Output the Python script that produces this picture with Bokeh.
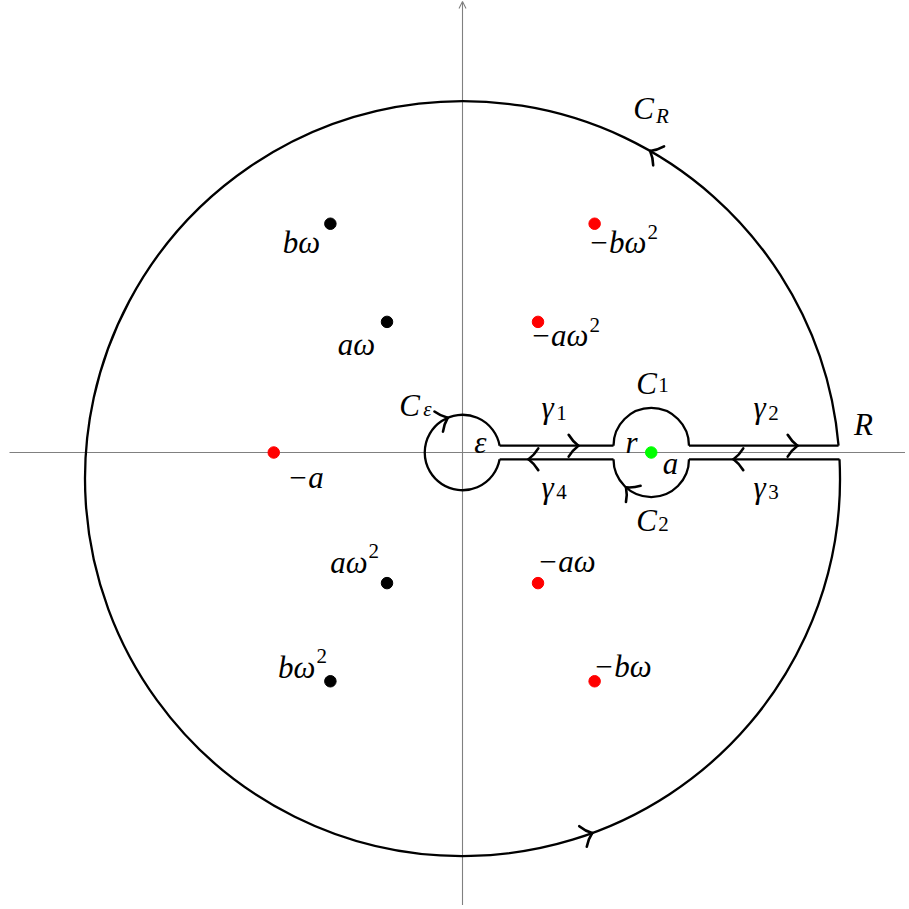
import numpy as np
from bokeh.plotting import figure
from bokeh.models import Range1d, Arrow, OpenHead
from bokeh.embed import file_html
from bokeh.resources import INLINE
from bokeh.core.properties import value

# ---------------- data (diagram units) ----------------
R = 5.0          # radius of C_R
R_cy = -0.345    # vertical centre of the drawn C_R arc
eps = 0.5        # radius of C_eps
r = 0.5          # radius of C_1 / C_2
a = 2.5          # position of the pole a
gap = 0.09       # half-width of the keyhole slit

pt_names = ["bω", "aω", "−a", "aω²", "bω²", "−bω²", "−aω²", "−aω", "−bω", "a"]
pt_x = [-1.75, -1.0, -2.5, -1.0, -1.75, 1.75, 1.0, 1.0, 1.75, 2.5]
pt_y = [3.03, 1.73, 0.0, -1.73, -3.03, 3.03, 1.73, -1.73, -3.03, 0.0]
pt_colors = ["black", "black", "red", "black", "black", "red", "red", "red", "red", "lime"]

# plain labels (text, centre x, baseline y)
lab_text = ["bω", "aω", "−a", "−aω", "−bω",
            "C", "C", "ε", "C", "C", "r", "a", "R", "γ", "γ", "γ", "γ"]
lab_x = [-2.132, -1.404, -2.079, 1.377, 2.119,
         2.397, -0.702, 0.238, 2.437, 2.437, 2.238, 2.755, 5.311, 1.126, 3.934, 3.934, 1.126]
lab_y = [2.649, 1.298, -0.464, -1.576, -2.967,
         4.424, 0.490, 0.0, 0.781, -1.033, 0.0, -0.278, 0.238, 0.464, 0.464, -0.596, -0.596]

# labels with a squared omega: base text right-aligned at x, then superscript "2"
sq_text = ["−bω", "−aω", "aω", "bω"]
sq_x = [2.437, 1.669, -1.258, -1.947]
sq_y = [2.649, 1.417, -1.589, -2.980]

# italic subscripts (C_R, C_eps)
subi_text = ["R", "ε"]
subi_x = [2.649, -0.464]
subi_y = [4.331, 0.450]
# upright subscripts (C_1, C_2, gamma_1..4)
subu_text = ["1", "2", "1", "2", "3", "4"]
subu_x = [2.662, 2.662, 1.311, 4.119, 4.119, 1.311]
subu_y = [0.755, -1.073, 0.397, 0.397, -0.662, -0.662]

# arrows on the slit lines: x, side (+1 upper / -1 lower), direction (deg)
la_x = [1.536, 4.437, 3.589, 0.874]
la_side = [1, 1, -1, -1]
la_dir = [0.0, 0.0, 180.0, 180.0]
# arrows on circles: centre x, centre y, radius, angle of position (deg), sense (+1 ccw)
ca_cx = [0.0, 0.0, 0.0, a]
ca_cy = [R_cy, R_cy, 0.0, -gap]
ca_rad = [R, R, eps, r]
ca_ang = [60.2, -69.9, 113.0, 228.0]
ca_sense = [1, 1, -1, -1]

# ---------------- layout ----------------
S = 75.5            # px per unit
OX, OY = 462, 452   # screen position of origin
W = H = 905
LEFT, TOP = 0, 0    # screen position of the canvas
x0, x1 = (LEFT - OX) / S, (LEFT + W - OX) / S
y1, y0 = (OY - TOP) / S, (OY - TOP - H) / S

p = figure(width=W, height=H, x_range=Range1d(x0, x1), y_range=Range1d(y0, y1),
           output_backend="svg", toolbar_location=None, min_border=0)
p.axis.visible = False
p.grid.visible = False
p.outline_line_color = None
p.background_fill_color = "white"

AX = "#808080"
p.segment(x0=[(9 - OX) / S], y0=[0], x1=[x1], y1=[0], line_color=AX, line_width=1.1)
vax = Arrow(end=OpenHead(size=7, line_color=AX, line_width=1.1),
            x_start=0, y_start=y0, x_end=0, y_end=y1 - 1.0 / S,
            line_color=AX, line_width=1.1, level="underlay")
p.add_layout(vax)

LW = 2.3
# C_R
a_up = np.arcsin((gap - R_cy) / R)
a_lo = np.arcsin((-gap - R_cy) / R)
p.arc(x=[0], y=[R_cy], radius=R, start_angle=a_up, end_angle=a_lo,
      direction="anticlock", line_color="black", line_width=LW)
# C_eps
ae = np.arcsin(gap / eps)
p.arc(x=[0], y=[0], radius=eps, start_angle=ae, end_angle=-ae,
      direction="anticlock", line_color="black", line_width=LW)
# C_1, C_2
p.arc(x=[a], y=[gap], radius=r, start_angle=0, end_angle=np.pi,
      direction="anticlock", line_color="black", line_width=LW)
p.arc(x=[a], y=[-gap], radius=r, start_angle=np.pi, end_angle=2 * np.pi,
      direction="anticlock", line_color="black", line_width=LW)
# slit lines
xe = np.sqrt(eps ** 2 - gap ** 2)
xr_up = R * np.cos(a_up)
xr_lo = R * np.cos(a_lo)
p.segment(x0=[xe, a + r, xe, a + r], y0=[gap, gap, -gap, -gap],
          x1=[a - r, xr_up, a - r, xr_lo], y1=[gap, gap, -gap, -gap],
          line_color="black", line_width=LW)

# arrow heads
tx = [x for x in la_x]
ty = [s * gap for s in la_side]
td = [np.radians(d) for d in la_dir]
for cx, cy, rad, ang, sn in zip(ca_cx, ca_cy, ca_rad, ca_ang, ca_sense):
    t = np.radians(ang)
    tx.append(cx + rad * np.cos(t))
    ty.append(cy + rad * np.sin(t))
    td.append(t + sn * np.pi / 2)
tx, ty, td = np.array(tx), np.array(ty), np.array(td)
L, Wd = 0.13, 0.145
ux, uy = np.cos(td), np.sin(td)
nx, ny = -uy, ux
qx0, qy0, qx1, qy1, qcx, qcy = [], [], [], [], [], []
for s in (1, -1):
    qx0 += list(tx); qy0 += list(ty)
    qx1 += list(tx - L * ux + s * Wd * nx)
    qy1 += list(ty - L * uy + s * Wd * ny)
    qcx += list(tx - 0.6 * L * ux + s * 0.4 * Wd * nx)
    qcy += list(ty - 0.6 * L * uy + s * 0.4 * Wd * ny)
p.quadratic(x0=qx0, y0=qy0, x1=qx1, y1=qy1, cx=qcx, cy=qcy,
            line_color="black", line_width=2.6, line_cap="round")

# points
p.scatter(x=pt_x, y=pt_y, size=11.5, color=pt_colors)

FONT = value("Liberation Serif")
YOFF = -10
MAIN, SMALL = "31px", "21px"
p.text(x=lab_x, y=lab_y, text=lab_text, text_font=FONT, text_font_style="italic",
       text_font_size=MAIN, text_align="center", text_baseline="alphabetic",
       text_color="black", y_offset=YOFF)
p.text(x=sq_x, y=sq_y, text=sq_text, text_font=FONT, text_font_style="italic",
       text_font_size=MAIN, text_align="right", text_baseline="alphabetic",
       text_color="black", y_offset=YOFF)
p.text(x=sq_x, y=sq_y, text=["2"] * len(sq_text), text_font=FONT, text_font_style="normal",
       text_font_size=SMALL, text_align="left", text_baseline="alphabetic",
       text_color="black", x_offset=1, y_offset=YOFF - 11)
p.text(x=subi_x, y=subi_y, text=subi_text, text_font=FONT, text_font_style="italic",
       text_font_size=SMALL, text_align="center", text_baseline="alphabetic",
       text_color="black", y_offset=YOFF)
p.text(x=subu_x, y=subu_y, text=subu_text, text_font=FONT, text_font_style="normal",
       text_font_size=SMALL, text_align="center", text_baseline="alphabetic",
       text_color="black", y_offset=YOFF)

open("out.html", "w").write(file_html(p, INLINE))
